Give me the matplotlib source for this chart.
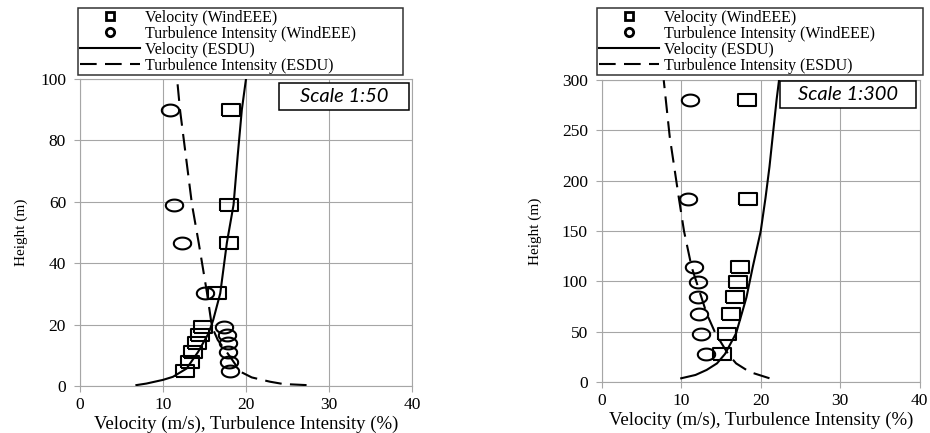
import numpy as np
import matplotlib
matplotlib.use("Agg")
import matplotlib.pyplot as plt
from matplotlib.lines import Line2D
from matplotlib.patches import Rectangle

plt.rcParams['font.family'] = ['Liberation Serif', 'DejaVu Serif']

# ---- Scale 1:50 (left) ----
h_50 = [5.0, 7.9, 11.2, 13.9, 16.6, 19.3, 30.3, 46.7, 59.0, 90.0]
vel_50 = [12.65, 13.25, 13.65, 14.05, 14.45, 14.85, 16.45, 17.95, 18.0, 18.2]
ti_50 = [18.07, 17.95, 17.87, 17.8, 17.67, 17.4, 15.06, 12.3, 11.3, 10.9]

esdu_vel_h_50 = [0.3, 0.8, 1.4, 2.0, 3.0, 5.7, 11.2, 17.2, 21.5, 30.2, 46.7, 59.0, 75.0, 90.0, 100.0]
esdu_vel_50 = [6.8, 8.0, 9.0, 10.0, 11.2, 12.85, 14.25, 15.5, 16.05, 16.9, 17.7, 18.5, 19.0, 19.5, 20.0]
esdu_ti_h_50 = [0.3, 0.65, 1.4, 2.8, 4.7, 9.5, 15.0, 19.3, 30.4, 46.7, 59.0, 90.0, 100.0]
esdu_ti_50 = [27.3, 24.5, 22.9, 20.7, 19.3, 18.1, 16.6, 15.9, 15.3, 14.3, 13.5, 12.05, 11.7]

# ---- Scale 1:300 (right) ----
h_300 = [28, 48, 68, 84, 99, 114, 182, 280]
vel_300 = [15.1, 15.8, 16.3, 16.7, 17.1, 17.4, 18.4, 18.3]
ti_300 = [13.1, 12.45, 12.2, 12.1, 12.1, 11.6, 10.9, 11.1]

esdu_vel_h_300 = [3.7, 7, 12, 18.5, 27.8, 48.4, 84, 114.5, 150, 183, 214, 244, 281, 300]
esdu_vel_300 = [10.0, 11.8, 13.2, 14.5, 15.5, 16.9, 18.2, 19.0, 20.0, 20.6, 21.1, 21.5, 22.0, 22.3]
esdu_ti_h_300 = [3.7, 10, 18.5, 27.8, 48.4, 68, 114.5, 150, 183, 244, 300]
esdu_ti_300 = [21.1, 18.6, 16.9, 15.9, 14.3, 13.2, 11.3, 10.35, 9.7, 8.55, 7.8]

labels = ['Velocity (WindEEE)', 'Turbulence Intensity (WindEEE)',
          'Velocity (ESDU)', 'Turbulence Intensity (ESDU)']

# wide markers (the source image is stretched horizontally)
rect_m = [(-1, -0.68), (1, -0.68), (1, 0.68), (-1, 0.68), (-1, -0.68)]
t = np.linspace(0, 2 * np.pi, 60)
ell_m = list(zip(np.cos(t), 0.68 * np.sin(t)))

fig = plt.figure(figsize=(9.3, 4.33), dpi=100)
grid_c = '#a6a6a6'


def panel(rect, h, vel, ti, vh, vv, th, tv, ymax, ystep, scale_txt, box, ylpad):
    ax = fig.add_axes(rect)
    ax.plot(vv, vh, color='black', lw=1.5, zorder=3)
    ax.plot(tv, th, color='black', lw=1.5, dashes=(8, 4), zorder=3)
    ax.plot(vel, h, linestyle='none', marker=rect_m, markersize=12.5,
            mfc='none', mec='black', mew=1.5, zorder=4)
    ax.plot(ti, h, linestyle='none', marker=ell_m, markersize=12.5,
            mfc='none', mec='black', mew=1.5, zorder=4)
    ax.set_xlim(0, 40)
    ax.set_ylim(0, ymax)
    ax.set_xticks(range(0, 41, 10))
    ax.set_yticks(range(0, ymax + 1, ystep))
    ax.grid(True, color=grid_c, lw=0.8)
    ax.set_axisbelow(True)
    for s in ax.spines.values():
        s.set_color(grid_c)
        s.set_linewidth(0.8)
    ax.tick_params(color=grid_c, length=4, labelsize=12.5)
    ax.tick_params(axis='y', pad=6)
    ax.tick_params(axis='x', pad=4)
    ax.set_xlabel('Velocity (m/s), Turbulence Intensity (%)', fontsize=13.5, labelpad=2)
    ax.set_ylabel('Height (m)', fontsize=11, labelpad=ylpad)
    x0, y0, x1, y1 = box
    ax.add_patch(Rectangle((x0, y0), x1 - x0, y1 - y0, transform=ax.transAxes,
                           facecolor='white', edgecolor='black', lw=1.1, zorder=6,
                           clip_on=False))
    ax.text((x0 + x1) / 2, (y0 + y1) / 2, scale_txt, transform=ax.transAxes,
            ha='center', va='center', fontsize=14.5, style='italic',
            family=['Lato', 'DejaVu Sans'], zorder=7)
    return ax


panel([0.086, 0.1085, 0.357, 0.709], h_50, vel_50, ti_50,
      esdu_vel_h_50, esdu_vel_50, esdu_ti_h_50, esdu_ti_50,
      100, 20, 'Scale 1:50', (0.599, 0.899, 0.991, 0.987), 9)
panel([0.647, 0.1178, 0.342, 0.697], h_300, vel_300, ti_300,
      esdu_vel_h_300, esdu_vel_300, esdu_ti_h_300, esdu_ti_300,
      300, 50, 'Scale 1:300', (0.56, 0.907, 0.987, 0.997), 14)

handles = [
    Line2D([0], [0], linestyle='none', marker='s', markersize=6, mfc='none', mec='black', mew=2),
    Line2D([0], [0], linestyle='none', marker='o', markersize=6, mfc='none', mec='black', mew=2),
    Line2D([0], [0], color='black', lw=1.5),
    Line2D([0], [0], color='black', lw=1.5, dashes=(8, 4)),
]
for x0, x1 in ((78, 403), (597, 923)):
    leg = fig.legend(handles, labels, loc='upper left',
                     bbox_to_anchor=(x0 / 930, 1 - 72 / 433, (x1 - x0) / 930, 64 / 433),
                     mode='expand', fontsize=11.5, frameon=True, fancybox=False,
                     handlelength=3.8, handletextpad=0.3, borderpad=0.1,
                     labelspacing=0.0, borderaxespad=0)
    leg.get_frame().set_edgecolor('black')
    leg.get_frame().set_linewidth(1.1)

fig.savefig('out.png', dpi=100)
